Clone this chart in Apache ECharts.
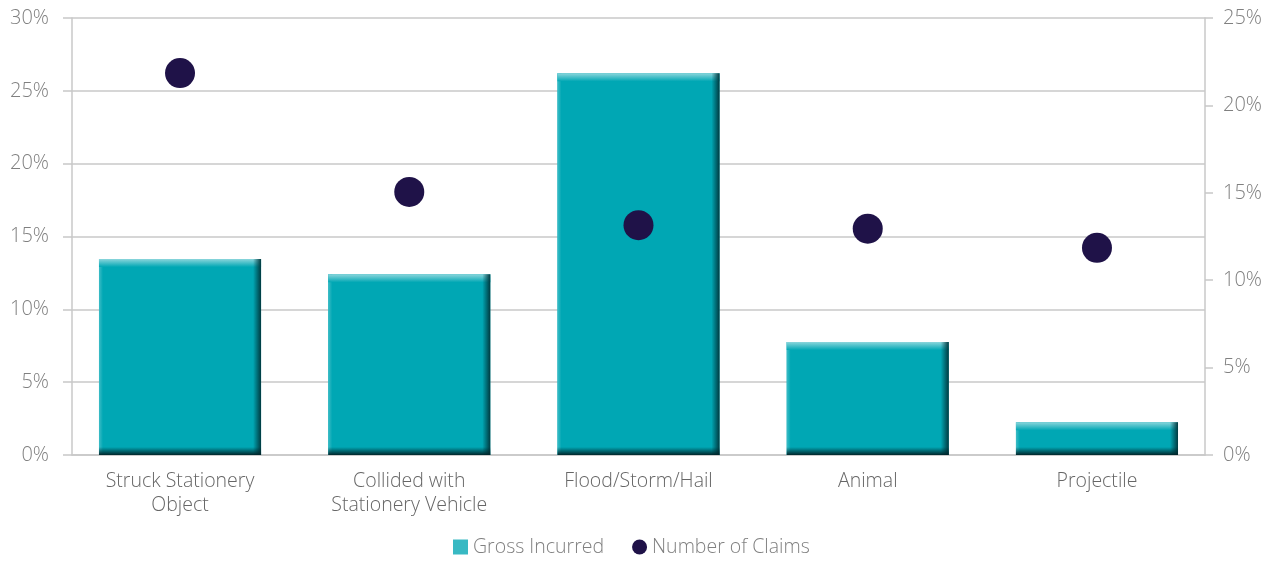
<!DOCTYPE html>
<html>
<head>
<meta charset="utf-8">
<script src="https://cdn.jsdelivr.net/npm/echarts@6/dist/echarts.min.js"></script>
<style>
  html, body { margin: 0; padding: 0; background: #ffffff; }
  #chart { width: 1279px; height: 561px; }
</style>
</head>
<body>
<div id="chart"></div>
<script>
// Claim categories and the two measures (share of total, in %)
const categories = [
  'Struck Stationery\nObject',
  'Collided with\nStationery Vehicle',
  'Flood/Storm/Hail',
  'Animal',
  'Projectile'
];
const grossIncurred = [13.45, 12.4, 26.2, 7.75, 2.25];
const numberOfClaims = [21.85, 15.05, 13.15, 12.95, 11.85];

const leftTicks = { min: 0, max: 30, interval: 5 };
const rightTicks = { min: 0, max: 25, interval: 5 };

const FONT = '"Open Sans", "Liberation Sans", sans-serif';
const LABEL_GREY = '#808080';
const GRID_GREY = '#c8c8c8';

const BASE = '#00a7b4';
const BEVEL = 8;

// Bevelled column drawn from the category axis and left value axis
function renderBevelBar(params, api) {
  const idx = api.value(0);
  const val = api.value(1);
  const topPt = api.coord([idx, val]);
  const basePt = api.coord([idx, 0]);
  const bandW = api.size([1, 0])[0];
  const w = bandW * 0.707;
  const x = topPt[0] - w / 2;
  const y = topPt[1];
  const h = basePt[1] - topPt[1];
  const b = Math.min(BEVEL, h / 2);
  const lin = (x1, y1, x2, y2, c1, c2) => new echarts.graphic.LinearGradient(x1, y1, x2, y2, [
    { offset: 0, color: c1 }, { offset: 1, color: c2 }
  ]);
  return {
    type: 'group',
    children: [
      { type: 'rect', shape: { x: x, y: y, width: w, height: h }, style: { fill: BASE } },
      { type: 'rect', shape: { x: x, y: y, width: 4, height: h },
        style: { fill: lin(0, 0, 1, 0, '#3dbcc6', BASE) } },
      { type: 'rect', shape: { x: x, y: y, width: w, height: b },
        style: { fill: lin(0, 0, 0, 1, '#8ad5db', BASE) } },
      { type: 'rect', shape: { x: x + w - b, y: y, width: b, height: h },
        style: { fill: lin(0, 0, 1, 0, 'rgba(0,55,62,0)', '#003a40') } },
      { type: 'rect', shape: { x: x, y: y + h - b, width: w, height: b },
        style: { fill: lin(0, 0, 0, 1, 'rgba(0,40,45,0)', '#00262b') } }
    ]
  };
}

const chart = echarts.init(document.getElementById('chart'), null, { renderer: 'canvas' });

const option = {
  backgroundColor: '#ffffff',
  animation: false,
  textStyle: { fontFamily: FONT },
  legend: {
    bottom: -1,
    left: 448,
    itemWidth: 15,
    itemHeight: 15,
    itemGap: 28,
    textStyle: { fontFamily: FONT, fontSize: 19.5, color: LABEL_GREY, fontWeight: 300 },
    data: [
      { name: 'Gross Incurred', icon: 'rect', itemStyle: { color: '#38b9c3' } },
      { name: 'Number of Claims', icon: 'circle', itemStyle: { color: '#1f1248' } }
    ]
  },
  grid: [
    // frame for the two value axes and gridlines
    { left: 72, right: 74, top: 18, bottom: 106, containLabel: false },
    // band layout for the columns, dots and category labels
    { left: 65.4, right: 67.4, top: 18, bottom: 106, containLabel: false }
  ],
  xAxis: [
    {
      type: 'category', gridIndex: 0, data: categories,
      axisLine: { show: true, lineStyle: { color: GRID_GREY, width: 1.5 } },
      axisTick: { show: false }, axisLabel: { show: false }, splitLine: { show: false }
    },
    {
      type: 'category', gridIndex: 1, data: categories,
      axisLine: { show: false }, axisTick: { show: false },
      axisLabel: {
        margin: 14, fontFamily: FONT, fontSize: 19.5, lineHeight: 24,
        color: '#666666', fontWeight: 300, interval: 0
      }
    }
  ],
  yAxis: [
    {
      type: 'value', gridIndex: 0, position: 'left', ...leftTicks,
      axisLine: { show: true, lineStyle: { color: GRID_GREY, width: 1.5 } },
      axisTick: { show: true, length: 9, lineStyle: { color: GRID_GREY, width: 1.5 } },
      splitLine: { show: true, lineStyle: { color: GRID_GREY, width: 1.5 } },
      axisLabel: { formatter: '{value}%', margin: 23, fontFamily: FONT, fontSize: 20, color: LABEL_GREY, fontWeight: 300 }
    },
    {
      type: 'value', gridIndex: 0, position: 'right', ...rightTicks,
      axisLine: { show: true, lineStyle: { color: GRID_GREY, width: 1.5 } },
      axisTick: { show: true, length: 8, lineStyle: { color: GRID_GREY, width: 1.5 } },
      splitLine: { show: false },
      axisLabel: { formatter: '{value}%', margin: 18, fontFamily: FONT, fontSize: 20, color: LABEL_GREY, fontWeight: 300 }
    },
    { type: 'value', gridIndex: 1, ...leftTicks, show: false, splitLine: { show: false } },
    { type: 'value', gridIndex: 1, ...rightTicks, show: false, splitLine: { show: false } }
  ],
  series: [
    {
      name: 'Gross Incurred',
      type: 'custom',
      xAxisIndex: 1,
      yAxisIndex: 2,
      itemStyle: { color: '#38b9c3' },
      renderItem: renderBevelBar,
      encode: { x: 0, y: 1 },
      data: grossIncurred.map((v, i) => [i, v]),
      z: 2
    },
    {
      name: 'Number of Claims',
      type: 'scatter',
      xAxisIndex: 1,
      yAxisIndex: 3,
      symbol: 'circle',
      symbolSize: 30,
      itemStyle: { color: '#1f1248', opacity: 1 },
      data: numberOfClaims,
      z: 3
    }
  ]
};

chart.setOption(option);
</script>
</body>
</html>
